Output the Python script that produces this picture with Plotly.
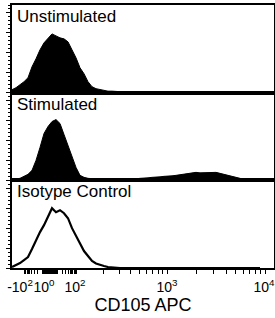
import numpy as np
import plotly.graph_objects as go

# Display channel (biexponential display units) of each histogram bin
CHANNEL = list(range(0, 252, 4))

UNSTIM = [3, 5, 8, 11, 15, 26, 34, 43, 50, 54, 59, 57, 55, 54, 51, 43, 35, 25, 19, 11,
          6, 4, 3, 2, 1.5, 1.5, 1, 1, 1, 1, 1, 1, 1, 1, 1, 1, 1, 0.7, 0.5] + [0] * 24
STIM = [1, 1.5, 2, 4, 6, 10, 20, 33, 47, 54, 59, 61, 57, 46, 35, 24, 13, 5, 3, 2,
        1.5, 1.5, 1, 1, 1, 1, 1, 1, 1, 1, 1.5, 1.5, 2, 2, 2.5, 3, 3, 3.5, 4, 4,
        4.5, 5, 5.5, 6, 6.5, 7, 8, 7.5, 7.5, 7.5, 8, 8, 7, 6, 4.5, 3.5, 2.5, 1.5, 1, 0.5,
        0.3, 0, 0]
ISO = [1, 3, 5, 8, 11, 19, 28, 36, 43, 51, 60, 56, 58, 55, 50, 40, 32, 24, 17, 12,
       7, 4.5, 3, 2, 1, 0.5] + [0] * 37

PANEL_LABELS = ["Unstimulated", "Stimulated", "Isotype Control"]
FILLED = [True, True, False]

TICK_TEXT = ["-10<sup>2</sup>", "10<sup>0</sup>", "10<sup>2</sup>", "10<sup>3</sup>", "10<sup>4</sup>"]
TICK_POS = [8, 32, 63, 155, 252]
X_TITLE = "CD105 APC"


def disp(v):
    """Approximate biexponential display transform (value -> display channel)."""
    if -100 <= v < 100:
        return 38 + 26 * np.arcsinh(v / 10) / np.arcsinh(10)
    if 100 <= v < 1000:
        return 64 + 91 * np.log10(v / 100)
    return 155 + 98 * np.log10(v / 1000)


minor_vals = [0.0]
for j in (0, 1):
    for k in range(1, 10):
        minor_vals += [k * 10 ** j, -k * 10 ** j]
minor_vals += [-100]
for k in range(1, 10):
    minor_vals += [k * 100, k * 1000]
minor_vals += [10000]
MINOR_POS = [float(disp(v)) for v in minor_vals]

FONT = "Liberation Sans, Arial, sans-serif"

fig = go.Figure()
n = len(PANEL_LABELS)
for i, (vals, label, filled) in enumerate(zip([UNSTIM, STIM, ISO], PANEL_LABELS, FILLED)):
    sfx = "" if i == 0 else str(i + 1)
    fig.add_trace(go.Scatter(
        x=CHANNEL, y=vals, mode="lines",
        line=dict(color="black", width=1 if filled else 2.2),
        fill="tozeroy" if filled else None, fillcolor="black",
        xaxis="x" + sfx, yaxis="y" + sfx, showlegend=False, name=label,
    ))
    top = 1 - i / n
    bot = 1 - (i + 1) / n
    is_bottom = i == n - 1
    xax = dict(
        domain=[0, 1], range=[0, 262], anchor="y" + sfx, automargin=False,
        showline=True, linecolor="black", linewidth=2, mirror=True,
        showgrid=False, zeroline=False,
    )
    if is_bottom:
        xax.update(
            tickmode="array", tickvals=TICK_POS, ticktext=TICK_TEXT, ticks="",
            tickangle=0, ticklabeloverflow="allow",
            tickfont=dict(family=FONT, size=14, color="black"),
            ticklabelstandoff=5,
            minor=dict(tickmode="array", tickvals=MINOR_POS, ticks="outside",
                       ticklen=4, tickwidth=1, tickcolor="black"),
            title=dict(text=X_TITLE, standoff=0,
                       font=dict(family=FONT, size=18, color="black")),
        )
    else:
        xax.update(showticklabels=False, ticks="")
    yax = dict(
        domain=[bot, top], range=[0, 88], anchor="x" + sfx, automargin=False,
        showline=True, linecolor="black", linewidth=2, mirror=True,
        showgrid=False, zeroline=False, showticklabels=False,
        ticks="outside", ticklen=4, tickwidth=1, tickcolor="black", dtick=20,
        minor=dict(dtick=4, ticks="outside", ticklen=2, tickwidth=1, tickcolor="black"),
    )
    fig.layout["xaxis" + sfx] = xax
    fig.layout["yaxis" + sfx] = yax
    fig.add_annotation(
        text=label, xref="paper", yref="paper", x=0, y=top,
        xanchor="left", yanchor="top", xshift=3, yshift=0, showarrow=False,
        font=dict(family=FONT, size=17, color="black"),
    )

fig.update_layout(
    width=275, height=318,
    margin=dict(l=12, r=1, t=5, b=50, autoexpand=False),
    paper_bgcolor="white", plot_bgcolor="white",
)

fig.write_html("out.html", config={"displayModeBar": False},
               post_script="document.body.style.margin='0px';")
